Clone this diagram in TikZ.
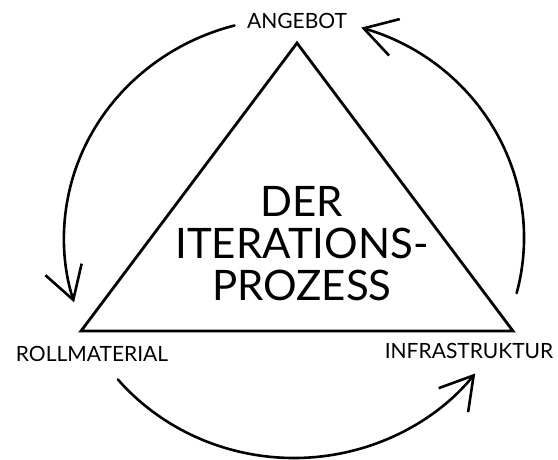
\documentclass[tikz,border=0pt]{standalone}
\usepackage{fontspec}
\setsansfont{Lato}
\usetikzlibrary{arrows.meta,positioning}
\tikzset{cornertext/.style={font=\sffamily\fontsize{21}{21}\selectfont,inner sep=0pt,anchor=base},
	looparrow/.style={line width=2.6pt,line cap=round,-{Straight Barb[length=32pt,width=38pt,line width=2.6pt]}},
	edge/.style={line width=2.8pt,line join=miter}}

\begin{document}
\begin{tikzpicture}[x=1pt,y=-1pt]
		\useasboundingbox (0,0) rectangle (558,459);
		\coordinate (top) at (297,43);
		\coordinate (left) at (81,331);
		\coordinate (right) at (513,331);
		\draw[edge] (top) -- (right) -- (left) -- cycle;
		
		\node[cornertext] (angebot) at (297,28) {ANGEBOT};
		\node[cornertext] (roll) at (92,361) {ROLLMATERIAL};
		\node[cornertext] (infra) at (469,358) {INFRASTRUKTUR};
		\node[font=\sffamily\fontsize{42}{42}\selectfont,align=center,inner sep=0pt] (title) at (302,244) {DER\\ITERATIONS-\\PROZESS};
		
		% arcs round the triangle
		\coordinate (c) at (294,238);
		\draw[looparrow] (c) ++(255:230 and 220) coordinate (a1) arc[start angle=255,end angle=163,x radius=230,y radius=220];
		\draw[looparrow] (c) ++(140:230 and 220) coordinate (a2) arc[start angle=140,end angle=38,x radius=230,y radius=220];
		\draw[looparrow] (c) ++(14.5:230 and 220) coordinate (a3) arc[start angle=14.5,end angle=-73,x radius=230,y radius=220];
	\end{tikzpicture}
\end{document}
